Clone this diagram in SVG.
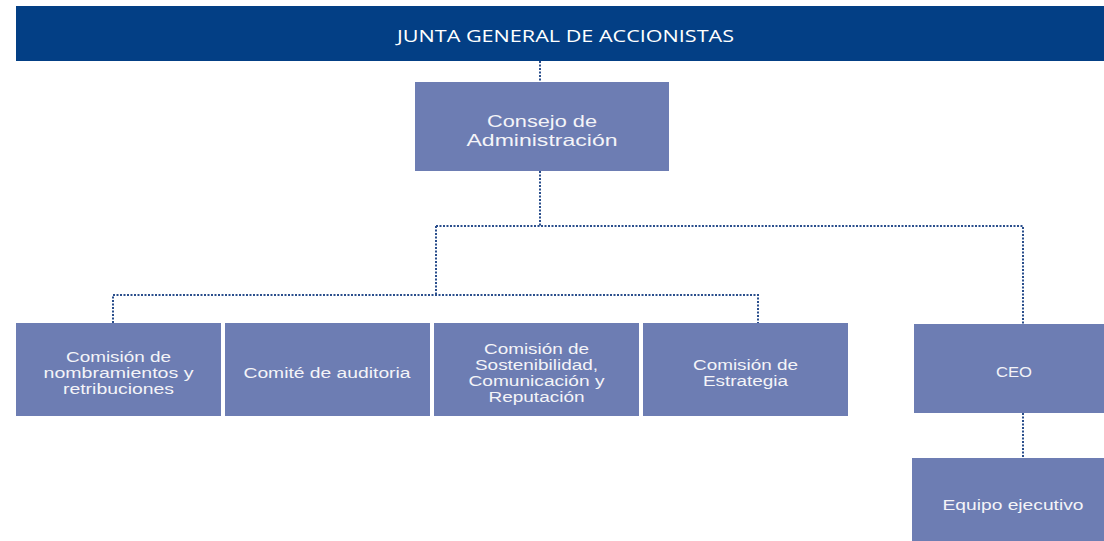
<svg xmlns="http://www.w3.org/2000/svg" width="1104" height="541" viewBox="0 0 1104 541">
<style>
.box{fill:#6d7db3}
.t{font-family:"Liberation Sans",Arial,sans-serif;font-size:14px;fill:#f4f4f8;text-anchor:middle}
.c{fill:none;stroke:#2a4e8c;stroke-width:2;stroke-dasharray:2 1.5}
</style>
<rect width="1104" height="541" fill="#ffffff"/>
<g id="junta">
<rect x="16" y="6" width="1088" height="55" fill="#033f85"/>
<text x="565.5" y="42" font-family="'Open Sans','Liberation Sans',sans-serif" font-size="17" fill="#ffffff" text-anchor="middle" textLength="337" lengthAdjust="spacingAndGlyphs">JUNTA GENERAL DE ACCIONISTAS</text>
</g>
<g id="connectors">
<path class="c" d="M540 61V82"/>
<path class="c" d="M540 171V226"/>
<path class="c" d="M436 226H1023V324"/>
<path class="c" d="M436 226V295"/>
<path class="c" d="M113 323V295H758V323"/>
<path class="c" d="M1023 413V458"/>
</g>
<g id="consejo">
<rect class="box" x="415" y="82" width="254" height="89"/>
<text class="t" style="font-size:16.5px" x="542" y="127" textLength="110" lengthAdjust="spacingAndGlyphs">Consejo de</text>
<text class="t" style="font-size:16.5px" x="542" y="146" textLength="151" lengthAdjust="spacingAndGlyphs">Administración</text>
</g>
<g id="nombramientos">
<rect class="box" x="16" y="323" width="205" height="93"/>
<text class="t" x="118.5" y="362" textLength="105" lengthAdjust="spacingAndGlyphs">Comisión de</text>
<text class="t" x="118.5" y="378" textLength="150" lengthAdjust="spacingAndGlyphs">nombramientos y</text>
<text class="t" x="118.5" y="394" textLength="111" lengthAdjust="spacingAndGlyphs">retribuciones</text>
</g>
<g id="auditoria">
<rect class="box" x="225" y="323" width="205" height="93"/>
<text class="t" x="327" y="378" textLength="167" lengthAdjust="spacingAndGlyphs">Comité de auditoria</text>
</g>
<g id="sostenibilidad">
<rect class="box" x="434" y="323" width="205" height="93"/>
<text class="t" x="536.5" y="354" textLength="105" lengthAdjust="spacingAndGlyphs">Comisión de</text>
<text class="t" x="536.5" y="370" textLength="123" lengthAdjust="spacingAndGlyphs">Sostenibilidad,</text>
<text class="t" x="536.5" y="386" textLength="136" lengthAdjust="spacingAndGlyphs">Comunicación y</text>
<text class="t" x="536.5" y="402" textLength="96" lengthAdjust="spacingAndGlyphs">Reputación</text>
</g>
<g id="estrategia">
<rect class="box" x="643" y="323" width="205" height="93"/>
<text class="t" x="745.5" y="370" textLength="105" lengthAdjust="spacingAndGlyphs">Comisión de</text>
<text class="t" x="745.5" y="386" textLength="85" lengthAdjust="spacingAndGlyphs">Estrategia</text>
</g>
<g id="ceo">
<rect class="box" x="914" y="324" width="190" height="89"/>
<text class="t" x="1014" y="377" textLength="36" lengthAdjust="spacingAndGlyphs">CEO</text>
</g>
<g id="equipo">
<rect class="box" x="912" y="458" width="192" height="83"/>
<text class="t" x="1013" y="510" textLength="141" lengthAdjust="spacingAndGlyphs">Equipo ejecutivo</text>
</g>
</svg>
